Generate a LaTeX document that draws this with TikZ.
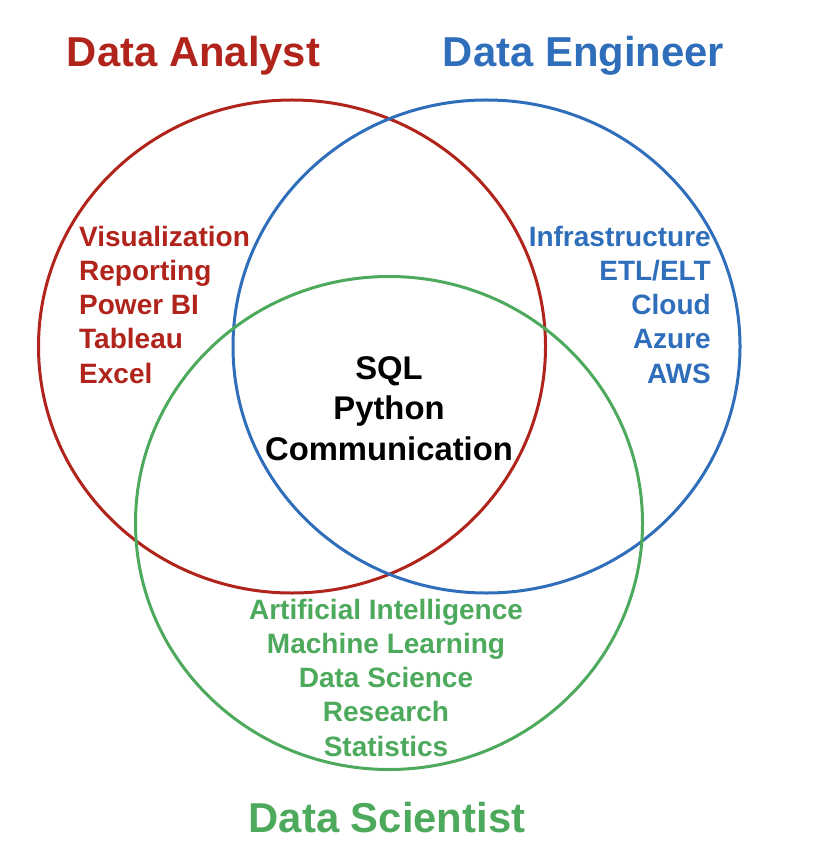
\documentclass[tikz,border=0pt]{standalone}
\usepackage{fontspec}
\setmainfont{Liberation Sans}
\usepackage{tikz}
\definecolor{analystred}{RGB}{176,36,27}
\definecolor{engineerblue}{RGB}{47,110,186}
\definecolor{scientistgreen}{RGB}{77,170,92}
\newcommand{\ring}[3]{\draw[#3, line width=3pt] ( #1 , #2 ) ellipse (253.5pt and 246.5pt);}
\newcommand{\titlenode}[5]{\node[#4, font=\fontsize{41.8}{50}\selectfont\bfseries, anchor=base, inner sep=0pt] (#5) at ( #1 , #2 ) {#3};}
\newcommand{\skillnode}[7]{\node[#4, font=\fontsize{28}{34.25}\selectfont\bfseries, anchor=#5, align=#6, inner sep=0pt] (#7) at ( #1 , #2 ) {#3};}

\begin{document}
\begin{tikzpicture}[x=1pt, y=-1pt]
        \useasboundingbox (0,0) rectangle (834,866);
        \ring{292}{346.5}{analystred}
        \ring{486.5}{346.5}{engineerblue}
        \ring{389}{523}{scientistgreen}
        
        \titlenode{193.5}{67}{Data Analyst}{analystred}{analyst}
        \titlenode{583.5}{67}{Data Engineer}{engineerblue}{engineer}
        \titlenode{387}{832}{Data Scientist}{scientistgreen}{scientist}
        
        % base anchor sits on the last line
        \skillnode{79}{383}{Visualization\\Reporting\\Power BI\\Tableau\\Excel}{analystred}{base west}{left}{analystskills}
        \skillnode{711}{383}{Infrastructure\\ETL/ELT\\Cloud\\Azure\\AWS}{engineerblue}{base east}{right}{engineerskills}
        \skillnode{386}{756}{Artificial Intelligence\\Machine Learning\\Data Science\\Research\\Statistics}{scientistgreen}{base}{center}{scientistskills}
        
        \node[black, font=\fontsize{32.8}{40.5}\selectfont\bfseries, anchor=base, align=center, inner sep=0pt] (shared) at (389, 460) {SQL\\Python\\Communication};
    \end{tikzpicture}
\end{document}
